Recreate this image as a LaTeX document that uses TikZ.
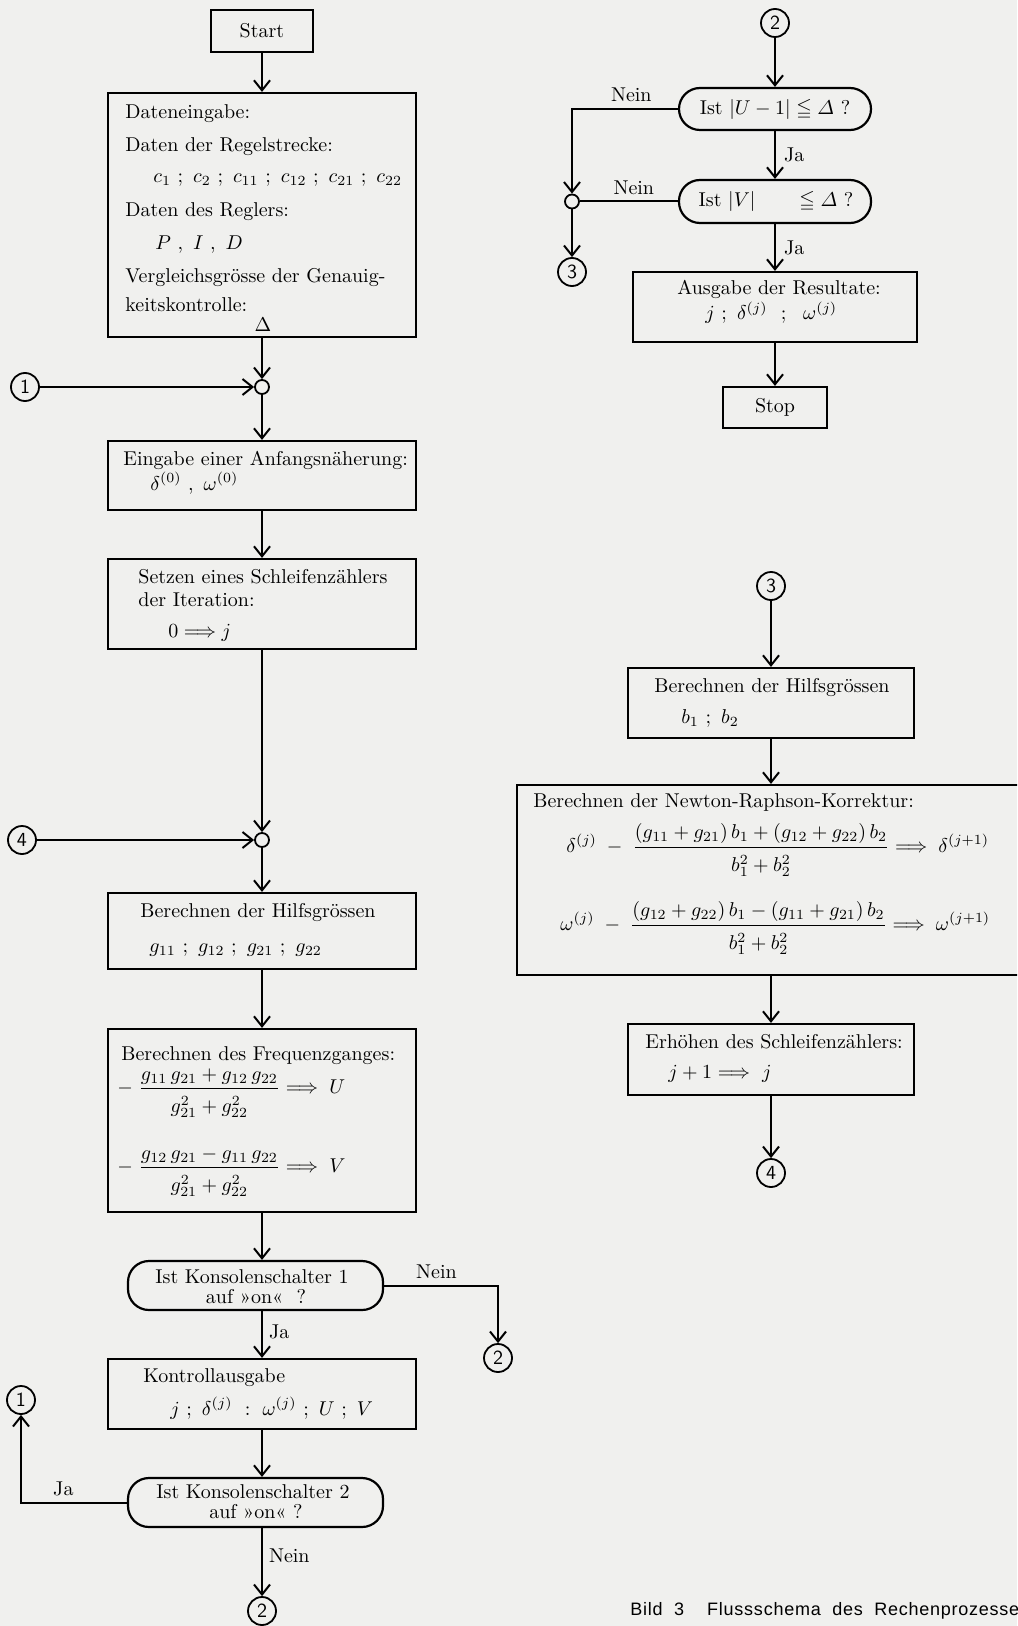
\documentclass[tikz,border=0pt]{standalone}
\usepackage{amsmath,amssymb}
\usepackage{fontspec}
\newfontfamily\capfont[LetterSpace=4.2,WordSpace=2]{Liberation Sans}
\usetikzlibrary{arrows.meta,fit}
\definecolor{bgcol}{RGB}{240,240,238}
\tikzset{
 box/.style={draw, line width=1.1pt, inner sep=0pt, rectangle},
 decn/.style={draw, line width=1.1pt, inner sep=0pt, rounded corners=10.5pt},
 conn/.style={draw, circle, line width=0.9pt, minimum size=14pt, inner sep=0pt, font=\sffamily},
 junc/.style={draw, circle, line width=0.9pt, minimum size=7pt, inner sep=0pt},
 txt/.style={inner sep=0pt, anchor=base west},
 ctxt/.style={inner sep=0pt, anchor=base},
 flow/.style={line width=1pt, -{Straight Barb[length=5pt,width=8pt]}},
 plain/.style={line width=1pt},
 lbl/.style={inner sep=0pt},
}
\newcommand{\sep}{\ ;\ }
\newcommand{\dstrut}{\rule{0pt}{10.5pt}}
\begin{document}
\begin{tikzpicture}[x=0.5pt,y=-0.5pt]
\useasboundingbox (0,0) rectangle (1017,1626);
\clip (0,0) rectangle (1017,1626);
\fill[bgcol] (0,0) rectangle (1017,1626);

% ---------------- left column ----------------
\node[box, fit={(211,10)(313,52)}] (start) {};
\node[lbl] (startT) at (start.center) {Start};

\node[box, fit={(108,93)(416,337)}] (dat) {};
\node[txt] (d1t) at (125,119) {Dateneingabe:};
\node[txt] (d2t) at (125,152) {Daten der Regelstrecke:};
\node[txt] (d3t) at (153,183) {$c_1\sep c_2\sep c_{11}\sep c_{12}\sep c_{21}\sep c_{22}$};
\node[txt] (d4t) at (125,217) {Daten des Reglers:};
\node[txt] (d5t) at (155,250) {$P\ ,\ I\ ,\ D$};
\node[txt] (d6t) at (125,283) {Vergleichsgrösse der Genauig-};
\node[txt] (d7t) at (125,312) {keitskontrolle:};
\node[ctxt] (d8t) at (263,332) {$\Delta$};

\node[junc] (j1) at (262,387) {};
\node[conn] (c1a) at (25,387) {1};

\node[box, fit={(108,441)(416,510)}] (eing) {};
\node[txt] (e1t) at (123,465) {Eingabe einer Anfangsnäherung:};
\node[txt] (e2t) at (150,490) {$\delta^{(0)}\ ,\ \omega^{(0)}$};

\node[box, fit={(108,559)(416,649)}] (setz) {};
\node[txt] (s1t) at (138,583) {Setzen eines Schleifenzählers};
\node[txt] (s2t) at (138,606) {der Iteration:};
\node[txt] (s3t) at (168,637) {$0\Longrightarrow j$};

\node[junc] (j4) at (262,840) {};
\node[conn] (c4a) at (22,840) {4};

\node[box, fit={(108,893)(416,969)}] (hilf) {};
\node[txt] (h1t) at (140,917) {Berechnen der Hilfsgrössen};
\node[txt] (h2t) at (149,952) {$g_{11}\sep g_{12}\sep g_{21}\sep g_{22}$};

\node[box, fit={(108,1029)(416,1212)}] (freq) {};
\node[txt] (f1t) at (121,1060) {Berechnen des Frequenzganges:};
\node[lbl, anchor=west] (f2t) at (117,1093) {$-\;\dfrac{g_{11}\,g_{21}+g_{12}\,g_{22}}{\dstrut g_{21}^{2}+g_{22}^{2}}\Longrightarrow\; U$};
\node[lbl, anchor=west] (f3t) at (117,1172) {$-\;\dfrac{g_{12}\,g_{21}-g_{11}\,g_{22}}{\dstrut g_{21}^{2}+g_{22}^{2}}\Longrightarrow\; V$};

\node[decn, fit={(128,1261)(383,1310)}] (k1) {};
\node[ctxt] (k1a) at (252,1283) {Ist Konsolenschalter 1};
\node[ctxt] (k1b) at (256,1303) {auf »on«\ \ ?};

\node[box, fit={(108,1359)(416,1429)}] (kontr) {};
\node[txt] (ko1) at (143,1382) {Kontrollausgabe};
\node[txt] (ko2) at (170,1415) {$j\ ;\ \delta^{(j)}\ :\ \omega^{(j)}\ ;\ U\ ;\ V$};

\node[decn, fit={(128,1478)(383,1527)}] (k2) {};
\node[ctxt] (k2a) at (253,1498) {Ist Konsolenschalter 2};
\node[ctxt] (k2b) at (256,1518) {auf »on«\ ?};

\node[conn] (c1b) at (21,1400) {1};
\node[conn] (c2b) at (498,1358) {2};
\node[conn] (c2c) at (262,1611) {2};

% ---------------- right column top ----------------
\node[conn] (c2a) at (775,23) {2};
\node[decn, fit={(679,88)(871,130)}] (dd1) {};
\node[ctxt] (dd1t) at (775,115) {Ist $|U-1|\leqq\varDelta$ ?};
\node[decn, fit={(679,180)(871,223)}] (dd2) {};
\node[ctxt] (dd2t) at (776,207) {Ist $|V|$\hspace{2.2em}$\leqq\varDelta$ ?};
\node[junc] (jr) at (572,201.5) {};
\node[conn] (c3a) at (572,272) {3};

\node[box, fit={(633,272)(917,342)}] (aus) {};
\node[txt] (a1t) at (677,295) {Ausgabe der Resultate:};
\node[txt] (a2t) at (705,320) {$j\ ;\ \delta^{(j)}\ \ ;\ \ \omega^{(j)}$};

\node[box, fit={(723,387)(827,428)}] (stop) {};
\node[lbl] (stopT) at (stop.center) {Stop};

% ---------------- right column bottom ----------------
\node[conn] (c3b) at (771,586) {3};
\node[box, fit={(628,668)(914,738)}] (bbox) {};
\node[txt] (b1t) at (654,692) {Berechnen der Hilfsgrössen};
\node[txt] (b2t) at (681,723) {$b_1\ ;\ b_2$};

\node[box, fit={(517,785)(1040,975)}] (newt) {};
\node[txt] (n1t) at (533,807) {Berechnen der Newton-Raphson-Korrektur:};
\node[lbl, anchor=west] (n2t) at (566,850) {$\delta^{(j)}\;-\;\dfrac{(g_{11}+g_{21})\,b_1+(g_{12}+g_{22})\,b_2}{\dstrut b_1^2+b_2^2}\Longrightarrow\;\delta^{(j+1)}$};
\node[lbl, anchor=west] (n3t) at (560,928) {$\omega^{(j)}\;-\;\dfrac{(g_{12}+g_{22})\,b_1-(g_{11}+g_{21})\,b_2}{\dstrut b_1^2+b_2^2}\Longrightarrow\;\omega^{(j+1)}$};

\node[box, fit={(628,1024)(914,1095)}] (erh) {};
\node[txt] (r1t) at (645,1048) {Erhöhen des Schleifenzählers:};
\node[txt] (r2t) at (668,1078) {$j+1\Longrightarrow\ j$};
\node[conn] (c4b) at (771,1173) {4};

% caption
\node[txt, font=\capfont\fontsize{9}{11}\selectfont] (cap) at (630,1615) {Bild 3\ \ Flussschema des Rechenprozesses};

% ---------------- connectors left ----------------
\draw[flow] (start) -- (dat);
\draw[flow] (dat) -- (j1);
\draw[flow] (c1a) -- (j1);
\draw[flow] (j1) -- (eing);
\draw[flow] (eing) -- (setz);
\draw[flow] (setz) -- (j4);
\draw[flow] (c4a) -- (j4);
\draw[flow] (j4) -- (hilf);
\draw[flow] (hilf) -- (freq);
\draw[flow] (freq.south) -- (freq.south |- k1.north);
\draw[flow] (k1.south -| kontr.north) -- (kontr.north)
  node[lbl, pos=0.45, anchor=west, xshift=3pt] (ja1) {Ja};
\draw[flow] (k1.east) -| (c2b)
  node[lbl, pos=0.23, anchor=south, yshift=3pt] (nein1) {Nein};
\draw[flow] (kontr.south) -- (kontr.south |- k2.north);
\draw[flow] (k2.west) -| (c1b)
  node[lbl, pos=0.3, anchor=south, yshift=3pt] (ja2) {Ja};
\draw[flow] (k2.south -| kontr.south) -- (c2c)
  node[lbl, pos=0.4, anchor=west, xshift=3pt] (nein2) {Nein};

% ---------------- connectors right ----------------
\draw[flow] (c2a) -- (dd1);
\draw[flow] (dd1) -- (dd2)
  node[lbl, midway, anchor=west, xshift=4pt] (ja3) {Ja};
\draw[flow] (dd1.west) -| (jr)
  node[lbl, pos=0.22, anchor=south, yshift=3pt] (nein3) {Nein};
\draw[plain] (dd2.west) -- (jr)
  node[lbl, pos=0.45, anchor=south, yshift=3pt] (nein4) {Nein};
\draw[flow] (jr) -- (c3a);
\draw[flow] (dd2) -- (aus)
  node[lbl, midway, anchor=west, xshift=4pt] (ja4) {Ja};
\draw[flow] (aus) -- (stop);
\draw[flow] (c3b) -- (bbox);
\draw[flow] (bbox.south) -- (bbox.south |- newt.north);
\draw[flow] (erh.north |- newt.south) -- (erh.north);
\draw[flow] (erh) -- (c4b);
\end{tikzpicture}
\end{document}
